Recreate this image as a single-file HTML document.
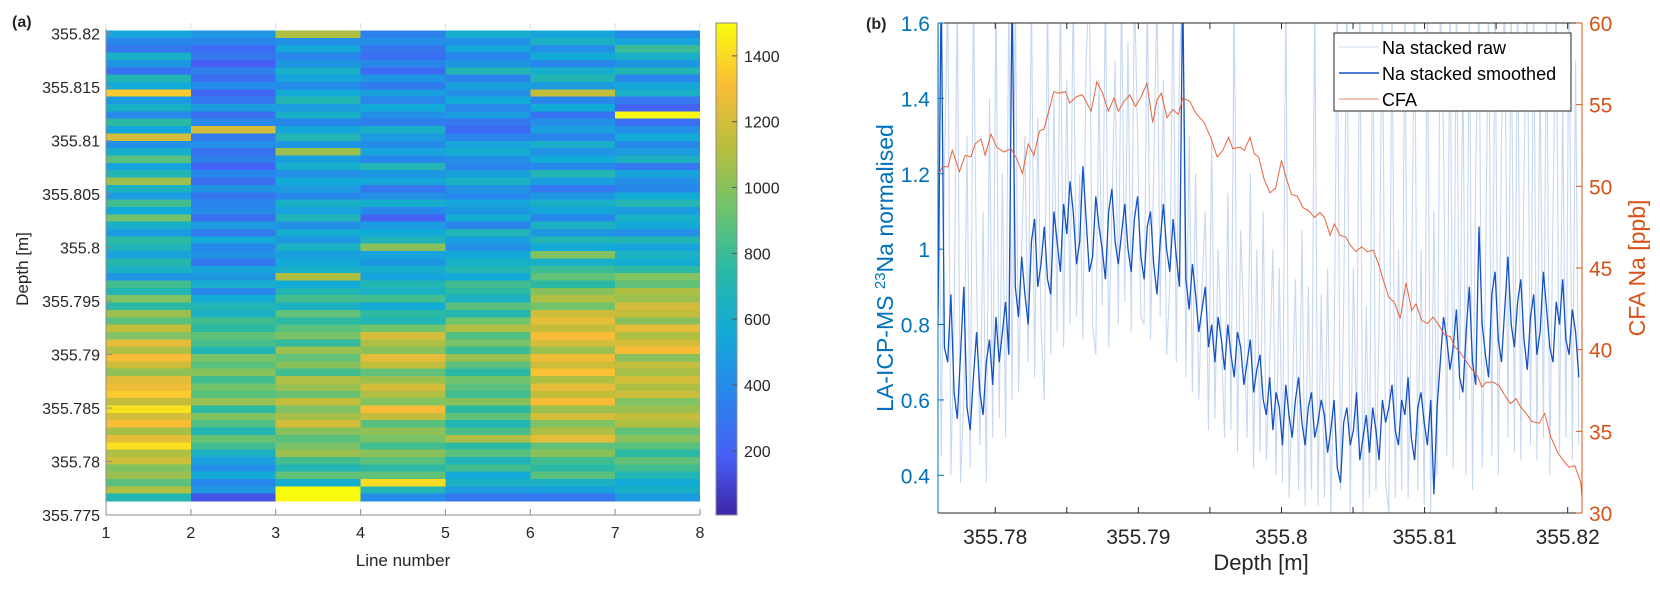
<!DOCTYPE html>
<html><head><meta charset="utf-8"><style>
html,body{margin:0;padding:0;background:#fff;}
svg{display:block;font-family:"Liberation Sans",sans-serif;}
</style></head><body>
<svg id="fig" width="1660" height="592" viewBox="0 0 1660 592">
<defs>
<clipPath id="clipB"><rect x="938" y="23" width="644" height="490"/></clipPath>
<linearGradient id="parulaGrad" x1="0" y1="1" x2="0" y2="0">
<stop offset="0" stop-color="rgb(62,38,168)"/>
<stop offset="0.12" stop-color="rgb(70,95,245)"/>
<stop offset="0.25" stop-color="rgb(40,135,235)"/>
<stop offset="0.37" stop-color="rgb(18,170,215)"/>
<stop offset="0.5" stop-color="rgb(40,185,165)"/>
<stop offset="0.62" stop-color="rgb(110,195,110)"/>
<stop offset="0.75" stop-color="rgb(185,190,60)"/>
<stop offset="0.87" stop-color="rgb(250,188,55)"/>
<stop offset="1" stop-color="rgb(249,251,14)"/>
</linearGradient>
</defs>
<g id="panelA"></g>
<g id="panelB"></g>
</svg>
<script>
// ---------- Panel (a) heatmap data: 7 line columns, 64 depth rows (top -> bottom) ----------
const lineNumbers = [1,2,3,4,5,6,7];
const hmDepthTop = 355.8203;
const hmDepthBottom = 355.7763;
const line1 = [520,380,300,620,450,280,700,560,1350,480,620,390,760,540,1200,420,600,880,520,700,1050,640,480,820,560,940,620,480,760,680,520,720,640,450,820,700,980,760,1050,880,1150,980,1250,1100,1300,1180,1020,1240,1280,1350,1150,1420,1200,1300,1080,1250,1420,1100,1180,980,1050,880,1100,700];
const line2 = [450,380,250,300,180,350,260,400,220,300,480,260,380,1200,320,420,280,340,200,380,260,440,300,360,400,260,480,320,560,380,440,300,520,460,600,380,560,700,640,820,760,900,840,700,960,880,1000,820,940,880,1040,760,980,860,700,920,820,640,500,420,560,380,460,150];
const line3 = [1100,420,540,380,460,620,520,400,560,700,480,620,380,540,700,460,1050,500,600,420,560,480,380,620,520,680,420,580,460,640,500,560,620,1100,560,700,820,640,900,760,880,960,780,1050,900,1000,820,1100,1040,920,1150,980,1080,1200,1000,880,960,1050,820,700,900,600,1500,1500];
const line4 = [350,420,300,260,380,240,450,320,500,380,560,420,340,620,480,400,520,380,700,460,540,300,420,600,380,200,480,560,680,1000,520,460,600,520,700,640,820,560,760,700,940,1200,1100,1000,1250,1150,900,1050,1200,1100,980,1300,1150,880,1020,960,820,1000,880,760,900,1400,700,400];
const line5 = [600,420,520,380,460,700,360,500,420,560,380,480,300,240,360,520,580,420,360,500,640,440,380,520,460,580,360,680,500,420,560,620,700,560,820,760,640,880,720,940,1100,860,960,800,1050,880,760,940,880,820,1000,760,900,700,840,1100,760,880,680,820,560,640,480,300];
const line6 = [520,640,420,560,380,600,700,480,1150,380,560,280,420,500,360,620,440,560,380,700,500,300,460,620,540,380,640,460,700,560,980,620,800,900,760,1000,1100,940,1180,1250,1150,1300,1200,1050,1280,1180,1320,1100,1250,1150,1300,1050,1200,980,1100,1250,900,1000,820,760,880,640,500,300];
const line7 = [400,520,800,620,460,700,380,540,620,300,200,1480,260,420,560,380,480,640,300,520,420,380,560,700,480,620,560,420,700,520,640,580,760,980,900,1100,1050,1200,1150,1000,1250,1100,1200,1300,1000,1150,1080,1200,1100,1180,980,1050,1150,1100,900,1000,880,760,900,820,700,560,620,480];
const colorbarTicks = [200,400,600,800,1000,1200,1400];
const depthTicksA = [355.775,355.78,355.785,355.79,355.795,355.8,355.805,355.81,355.815,355.82];
const cMin = 5, cMax = 1500;

// ---------- Panel (b) data ----------
const naDepthStart = 355.7760;
const naDepthStep = 0.000225;
const naSmoothed = [
0.80,1.7,0.74,0.70,0.88,0.62,0.55,0.72,0.90,0.58,0.52,0.66,0.78,0.62,0.56,0.70,0.76,0.64,0.82,0.70,
0.78,0.86,0.72,1.7,0.90,0.82,0.98,0.88,0.80,1.02,1.08,0.90,0.96,1.06,0.92,0.88,1.10,1.02,0.94,1.12,
1.04,1.18,1.10,0.96,1.02,1.22,1.08,0.94,0.98,1.14,1.06,1.00,0.92,1.10,1.16,1.02,0.96,1.04,1.12,1.00,
0.94,1.08,1.14,0.98,0.92,1.06,1.10,0.96,0.88,1.02,1.12,1.00,0.94,1.08,0.98,0.90,1.7,0.92,0.84,0.96,
0.88,0.78,0.84,0.90,0.74,0.80,0.70,0.82,0.76,0.68,0.80,0.72,0.66,0.78,0.74,0.64,0.70,0.76,0.62,0.68,
0.72,0.60,0.56,0.66,0.52,0.62,0.58,0.48,0.64,0.56,0.50,0.60,0.66,0.54,0.48,0.58,0.62,0.50,0.54,0.60,
0.56,0.46,0.52,0.60,0.42,0.38,0.54,0.58,0.48,0.52,0.62,0.44,0.50,0.56,0.46,0.58,0.52,0.44,0.60,0.54,
0.58,0.64,0.52,0.48,0.60,0.56,0.66,0.50,0.44,0.58,0.62,0.54,0.48,0.60,0.35,0.58,0.70,0.82,0.76,0.68,
0.74,0.84,0.66,0.62,0.78,0.90,0.70,0.64,1.06,0.80,0.72,0.66,0.88,0.94,0.76,0.70,0.84,0.98,0.80,0.74,
0.86,0.92,0.76,0.68,0.82,0.88,0.72,0.78,0.94,0.84,0.74,0.70,0.86,0.80,0.92,0.76,0.72,0.84,0.78,0.66];
const naRaw = [
1.7,0.45,1.2,1.7,0.40,0.8,1.7,0.38,0.60,1.3,0.42,1.7,0.9,0.48,1.1,0.38,1.4,0.50,1.7,0.55,
1.2,0.50,1.7,0.60,1.7,0.62,1.0,1.3,0.70,1.7,0.66,1.35,0.80,0.60,1.7,0.72,1.4,0.78,1.7,0.74,
1.45,0.80,1.7,0.82,1.2,0.76,1.5,1.7,0.80,0.72,1.45,0.85,1.7,0.74,1.1,1.5,0.80,1.7,0.86,1.55,
0.78,1.7,1.3,0.82,0.80,1.7,0.76,1.2,1.7,0.82,1.45,0.72,0.90,1.7,0.70,1.5,1.7,0.66,1.3,0.62,
1.2,0.60,0.9,1.1,0.52,1.3,0.55,1.0,0.75,0.50,1.15,0.52,1.7,0.46,1.05,0.8,0.50,1.2,0.42,1.0,
0.46,1.1,0.44,0.7,1.0,0.40,0.95,0.38,1.7,0.34,0.6,0.92,0.36,1.05,0.32,0.90,0.36,1.7,0.32,0.88,
0.34,0.95,0.30,0.7,1.7,0.36,0.85,1.7,0.30,0.95,0.5,1.7,0.30,0.85,0.34,1.7,0.36,0.80,1.7,0.38,
0.30,1.7,0.34,1.0,0.36,1.7,0.34,0.8,1.7,0.36,1.0,0.32,1.7,0.30,1.1,0.40,1.7,1.3,0.45,1.7,
0.42,1.7,0.6,1.5,0.40,1.7,0.36,1.2,1.7,0.42,0.9,1.7,0.45,1.7,0.40,1.3,1.7,0.50,1.7,0.46,
1.7,0.44,1.2,1.7,0.48,1.7,0.44,1.5,0.50,1.7,0.40,1.1,1.7,0.46,1.4,0.50,1.7,0.44,1.5,0.48];
const cfaDepth = [355.7760,355.7763,355.7767,355.7770,355.7775,355.7779,355.7783,355.7786,355.7790,355.7793,355.7797,355.7801,355.7806,355.7811,355.7815,355.7819,355.7823,355.7827,355.7831,355.7834,355.7838,355.7841,355.7844,355.7849,355.7852,355.7857,355.7861,355.7867,355.7871,355.7875,355.7879,355.7883,355.7886,355.7890,355.7894,355.7898,355.7902,355.7906,355.7910,355.7913,355.7916,355.7920,355.7924,355.7928,355.7931,355.7936,355.7940,355.7946,355.7951,355.7955,355.7959,355.7963,355.7966,355.7971,355.7974,355.7978,355.7981,355.7984,355.7988,355.7992,355.7996,355.8000,355.8003,355.8007,355.8011,355.8015,355.8019,355.8023,355.8027,355.8030,355.8034,355.8037,355.8041,355.8045,355.8048,355.8052,355.8056,355.8060,355.8064,355.8068,355.8071,355.8075,355.8079,355.8083,355.8087,355.8091,355.8094,355.8098,355.8102,355.8106,355.8110,355.8114,355.8118,355.8121,355.8125,355.8129,355.8133,355.8137,355.8140,355.8143,355.8148,355.8152,355.8156,355.8160,355.8164,355.8167,355.8171,355.8175,355.8180,355.8184,355.8188,355.8193,355.8197,355.8201,355.8205,355.8209,355.8210];
const cfaNa = [50.6,51.2,51.2,52.2,50.9,51.9,51.8,52.6,52.9,51.9,53.2,52.4,52.1,52.3,51.7,50.8,52.6,51.9,53.4,53.5,54.8,55.8,55.7,55.8,55.1,55.5,55.6,54.6,56.4,55.7,54.6,55.4,54.6,55.2,55.6,54.9,55.5,56.3,53.9,55.3,55.7,54.2,54.7,54.4,55.4,55.2,54.5,53.9,52.9,51.8,52.2,53.0,52.3,52.4,52.2,53.0,52.0,51.8,50.4,49.6,49.9,51.6,50.6,49.5,49.4,48.7,48.5,48.1,48.4,48.1,47.0,47.7,47.0,46.9,46.4,46.0,46.3,46.0,46.1,45.2,44.3,43.2,42.9,41.9,44.1,42.4,42.8,41.8,41.6,42.0,41.5,40.9,40.8,40.2,39.8,39.3,38.8,38.4,37.7,38.0,38.0,37.8,37.2,36.7,37.0,36.5,36.1,35.6,35.5,36.1,34.7,33.7,33.2,32.8,32.9,31.9,31.0];
const depthTicksB = [355.78,355.79,355.8,355.81,355.82];
const depthMinorB = [355.78,355.785,355.79,355.795,355.8,355.805,355.81,355.815,355.82];
const leftTicks = [0.4,0.6,0.8,1,1.2,1.4,1.6];
const rightTicks = [30,35,40,45,50,55,60];

const NS = "http://www.w3.org/2000/svg";
function mk(tag, attrs, parent, text){
  const e = document.createElementNS(NS, tag);
  for (const k in attrs) e.setAttribute(k, attrs[k]);
  if (text !== undefined) e.textContent = text;
  parent.appendChild(e);
  return e;
}
const stops = [[0,62,38,168],[0.12,70,95,245],[0.25,40,135,235],[0.37,18,170,215],[0.5,40,185,165],[0.62,110,195,110],[0.75,185,190,60],[0.87,250,188,55],[1,249,251,14]];
function parula(v){
  let t = (v - cMin)/(cMax - cMin); t = Math.max(0, Math.min(1, t));
  for (let i=1;i<stops.length;i++){
    if (t <= stops[i][0]){
      const a = stops[i-1], b = stops[i], f = (t-a[0])/(b[0]-a[0]);
      return `rgb(${Math.round(a[1]+f*(b[1]-a[1]))},${Math.round(a[2]+f*(b[2]-a[2]))},${Math.round(a[3]+f*(b[3]-a[3]))})`;
    }
  }
  return "rgb(249,251,14)";
}

// ===== Panel A =====
const A = document.getElementById("panelA");
const axL = 106, axR = 700, axT = 23, axB = 515;
const xA = v => axL + (v-1)/(8-1)*(axR-axL);
const yA = d => axB - (d-355.775)/(355.821-355.775)*(axB-axT);
const lines = [line1,line2,line3,line4,line5,line6,line7];
const hmG = mk("g", {"shape-rendering":"crispEdges"}, A);


lines.forEach((col, ci) => {
  const n = col.length;
  const dStep = (hmDepthTop - hmDepthBottom)/n;
  col.forEach((v, ri) => {
    const d0 = hmDepthTop - ri*dStep, d1 = d0 - dStep;
    const r = mk("rect", {x:xA(lineNumbers[ci]), y:yA(d0), width:xA(lineNumbers[ci]+1)-xA(lineNumbers[ci]), height:yA(d1)-yA(d0)+0.6, fill:parula(v)}, hmG);
    
    
  });
});
const axA = mk("g", {stroke:"#8c8c8c","stroke-width":1,fill:"none"}, A);


mk("line",{x1:axL,y1:axB,x2:axR,y2:axB},axA);
mk("line",{x1:axL,y1:axT,x2:axL,y2:axB},axA);
for (let i=1;i<=8;i++){
  mk("line",{x1:xA(i),y1:axB,x2:xA(i),y2:axB-6},axA);
  mk("line",{x1:xA(i),y1:axT,x2:xA(i),y2:axT+6,stroke:"#ddd"},axA);
  const t = mk("text",{x:xA(i),y:axB+23,"text-anchor":"middle","font-size":16,fill:"#262626"},A,String(i));
  
  
}
depthTicksA.forEach(d => {
  mk("line",{x1:axL,y1:yA(d),x2:axL+6,y2:yA(d)},axA);
  const t = mk("text",{x:axL-6,y:yA(d)+6,"text-anchor":"end","font-size":16,fill:"#262626"},A,String(d));
  
  
});
let t;
t = mk("text",{x:403,y:566,"text-anchor":"middle","font-size":17,fill:"#262626"},A,"Line number");
 
t = mk("text",{x:0,y:0,"text-anchor":"middle","font-size":17,fill:"#262626",transform:"translate(28,269) rotate(-90)"},A,"Depth [m]");
 
t = mk("text",{x:12,y:27,"font-size":16,"font-weight":"bold",fill:"#262626"},A,"(a)");
 
const cbX = 716, cbW = 21;
const yCb = v => axB - (v-cMin)/(cMax-cMin)*(axB-axT);
const cb = mk("rect",{x:cbX,y:axT,width:cbW,height:axB-axT,fill:"url(#parulaGrad)",stroke:"#8c8c8c","stroke-width":1},A);
 
colorbarTicks.forEach(v => {
  mk("line",{x1:cbX+cbW-5,y1:yCb(v),x2:cbX+cbW,y2:yCb(v),stroke:"#555"},A);
  const tl = mk("text",{x:cbX+cbW+7,y:yCb(v)+6,"font-size":16,fill:"#262626"},A,String(v));
   
});

// ===== Panel B =====
const B = document.getElementById("panelB");
const bL = 938, bR = 1582, bT = 23, bB = 513;
const dMin = 355.776, dMax = 355.821;
const xB = d => bL + (d-dMin)/(dMax-dMin)*(bR-bL);
const yL = v => bB - (v-0.3)/(1.6-0.3)*(bB-bT);
const yR = v => bB - (v-30)/(60-30)*(bB-bT);
const plotG = mk("g",{"clip-path":"url(#clipB)"},B);
function series(vals, xs, yf){ return vals.map((v,i)=>`${i?"L":"M"}${xs(i).toFixed(1)},${yf(v).toFixed(1)}`).join(""); }
const naX = i => xB(naDepthStart + i*naDepthStep);
let p = mk("path",{d:series(naRaw,naX,yL),fill:"none",stroke:"#c8d8f0","stroke-width":1.1},plotG);
 
p = mk("path",{d:series(naSmoothed,naX,yL),fill:"none",stroke:"#1452c4","stroke-width":1.3},plotG);
 
p = mk("path",{d:series(cfaNa,i=>xB(cfaDepth[i]),yR),fill:"none",stroke:"#e8643a","stroke-width":1},plotG);
 
mk("line",{x1:bL,y1:bB,x2:bR,y2:bB,stroke:"#262626"},B);
mk("line",{x1:bL,y1:bT,x2:bR,y2:bT,stroke:"#262626"},B);
mk("line",{x1:bL,y1:bT,x2:bL,y2:bB,stroke:"#0072bd"},B);
mk("line",{x1:bR,y1:bT,x2:bR,y2:bB,stroke:"#d95319"},B);
depthMinorB.forEach(d => {
  mk("line",{x1:xB(d),y1:bB,x2:xB(d),y2:bB-6,stroke:"#262626"},B);
  mk("line",{x1:xB(d),y1:bT,x2:xB(d),y2:bT+6,stroke:"#262626"},B);
});
depthTicksB.forEach(d => {
  const tl = mk("text",{x:xB(d),y:bB+31,"text-anchor":"middle","font-size":21,fill:"#262626"},B,String(d));
   
});
leftTicks.forEach(v => {
  mk("line",{x1:bL,y1:yL(v),x2:bL+6,y2:yL(v),stroke:"#0072bd"},B);
  const tl = mk("text",{x:bL-8,y:yL(v)+8,"text-anchor":"end","font-size":21,fill:"#0072bd"},B,String(v));
   
});
rightTicks.forEach(v => {
  mk("line",{x1:bR,y1:yR(v),x2:bR-6,y2:yR(v),stroke:"#d95319"},B);
  const tl = mk("text",{x:bR+7,y:yR(v)+8,"font-size":21,fill:"#d95319"},B,String(v));
   
});
t = mk("text",{x:1261,y:570,"text-anchor":"middle","font-size":22,fill:"#262626"},B,"Depth [m]");
 
t = mk("text",{x:0,y:0,"text-anchor":"middle","font-size":23,fill:"#0072bd",transform:"translate(893,268) rotate(-90)"},B);
 
t.innerHTML = 'LA-ICP-MS <tspan baseline-shift="super" font-size="15">23</tspan>Na normalised';
t = mk("text",{x:0,y:0,"text-anchor":"middle","font-size":23,fill:"#d95319",transform:"translate(1645,268) rotate(-90)"},B,"CFA Na [ppb]");
 
t = mk("text",{x:866,y:29,"font-size":16,"font-weight":"bold",fill:"#262626"},B,"(b)");
 
const lg = mk("g",{},B);
 
mk("rect",{x:1334,y:33,width:237,height:78,fill:"#fff",stroke:"#262626","stroke-width":1},lg);
[["Na stacked raw","#dfe8f6",47],["Na stacked smoothed","#1452c4",73],["CFA","#f2b49c",99]].forEach(([lab,col,yy])=>{
  mk("line",{x1:1339,y1:yy,x2:1379,y2:yy,stroke:col,"stroke-width":1.5},lg);
  const e = mk("text",{x:1382,y:yy+7,"font-size":18,fill:"#000"},lg,lab);
   
});
</script>
</body></html>
